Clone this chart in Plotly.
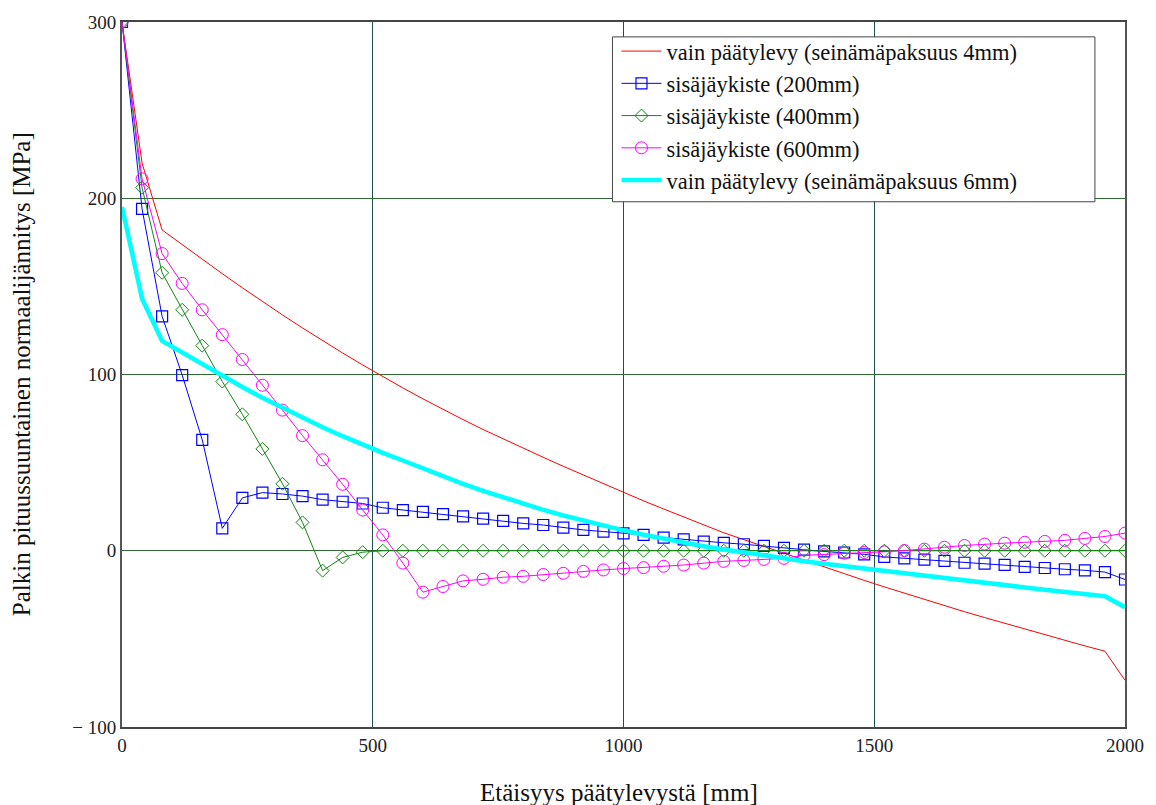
import plotly.graph_objects as go

# distance from end plate [mm], every 40 mm
x_mm = [0, 40, 80, 120, 160, 200, 240, 280, 320, 360, 400, 440, 480, 520, 560, 600,
        640, 680, 720, 760, 800, 840, 880, 920, 960, 1000, 1040, 1080, 1120, 1160, 1200,
        1240, 1280, 1320, 1360, 1400, 1440, 1480, 1520, 1560, 1600, 1640, 1680, 1720,
        1760, 1800, 1840, 1880, 1920, 1960, 2000]

# only end plate, wall thickness 4 mm
red_4mm = [300, 220, 182, 173.6, 165.3, 157.2, 149.2, 141.4, 133.8, 126.4, 119.2, 112.2,
           105.4, 98.8, 92.4, 86.2, 80.2, 74.4, 68.8, 63.4, 58.2, 53.0, 47.9, 42.9, 37.9,
           33.0, 28.3, 23.7, 19.2, 14.6, 10.2, 6.3, 2.4, -1.5, -5.3, -9.2, -13.0, -16.8,
           -20.5, -24.1, -27.7, -31.2, -34.6, -37.9, -41.2, -44.5, -47.7, -50.9, -54.0,
           -57.0, -73.5]

# internal stiffener 200 mm
blue_200 = [300, 194, 133, 99.7, 62.9, 12.7, 30.0, 33.0, 32.2, 31.0, 29.0, 27.8, 26.8,
            24.4, 23.1, 22.1, 20.8, 19.5, 18.2, 16.9, 15.5, 14.6, 13.1, 11.8, 10.9, 9.9,
            9.0, 7.5, 6.5, 5.2, 4.5, 3.7, 2.8, 1.6, 0.6, -0.4, -1.0, -2.0, -3.5, -4.3,
            -5.0, -5.8, -6.8, -7.3, -8.0, -9.2, -9.8, -10.5, -11.1, -12.1, -16.3]

# internal stiffener 400 mm
green_400 = [300, 206, 157.7, 136.7, 116.4, 96, 77.4, 57.8, 38, 16.1, -11.3, -3.8, -0.8,
             0, 0, 0, 0, 0, 0, 0, 0, 0, 0, 0, 0, 0, 0, 0, 0, 0, 0, 0, 0, 0, 0, 0, 0, 0,
             0, 0, 0, 0, 0, 0, 0, 0, 0, 0, 0, 0, 0]

# internal stiffener 600 mm
pink_600 = [300, 211, 168.6, 151.7, 136.7, 122.6, 108.5, 93.9, 79.8, 65.3, 51.6, 37.7,
            23.1, 9.0, -7.0, -23.5, -20.3, -17.1, -16.2, -15.0, -14.5, -13.5, -12.8,
            -11.7, -10.9, -10.1, -9.6, -8.8, -8.1, -7.0, -6.0, -5.5, -4.9, -4.3, -2.6,
            -2.2, -1.4, -1.0, -0.6, 0.1, 0.9, 2.0, 3.0, 3.8, 4.3, 4.8, 5.3, 5.9, 7.0,
            8.1, 10.0]

# only end plate, wall thickness 6 mm
cyan_6mm = [195, 143, 119, 112.3, 105.7, 99.2, 92.9, 86.8, 81.0, 75.4, 70.1, 65.0, 60.1,
            55.5, 51.2, 46.6, 42.2, 38.0, 34.0, 30.2, 26.6, 23.2, 20.0, 17.0, 14.2, 11.6,
            9.1, 6.8, 4.6, 2.6, 0.7, -1.1, -2.8, -4.4, -5.9, -7.4, -8.8, -10.2, -11.6,
            -13.0, -14.3, -15.6, -16.9, -18.2, -19.5, -20.8, -22.1, -23.4, -24.6, -25.8,
            -32.0]

names = ["vain päätylevy (seinämäpaksuus 4mm)", "sisäjäykiste (200mm)",
         "sisäjäykiste (400mm)", "sisäjäykiste (600mm)",
         "vain päätylevy (seinämäpaksuus 6mm)"]

x_ticks = [0, 500, 1000, 1500, 2000]
y_ticks = [-100, 0, 100, 200, 300]
y_ticktext = ["− 100", "0", "100", "200", "300"]

SERIF = "Liberation Serif, Times New Roman, serif"

fig = go.Figure()
fig.add_trace(go.Scatter(x=x_mm, y=red_4mm, name=names[0], mode="lines",
                         line=dict(color="#ff0000", width=1)))
fig.add_trace(go.Scatter(x=x_mm, y=blue_200, name=names[1], mode="lines+markers",
                         line=dict(color="#0000ff", width=1),
                         marker=dict(symbol="square-open", size=11, color="#0000ff",
                                     line=dict(width=1.2))))
fig.add_trace(go.Scatter(x=x_mm, y=green_400, name=names[2], mode="lines+markers",
                         line=dict(color="#118811", width=1),
                         marker=dict(symbol="diamond-open", size=10, color="#118811",
                                     line=dict(width=1))))
fig.add_trace(go.Scatter(x=x_mm, y=pink_600, name=names[3], mode="lines+markers",
                         line=dict(color="#ff00ff", width=1),
                         marker=dict(symbol="circle-open", size=12, color="#ff00ff",
                                     line=dict(width=1))))
fig.add_trace(go.Scatter(x=x_mm, y=cyan_6mm, name=names[4], mode="lines",
                         line=dict(color="#00ffff", width=4.5)))

fig.update_layout(
    width=1156, height=805,
    margin=dict(l=122, r=26, t=17, b=78),
    paper_bgcolor="white", plot_bgcolor="white",
    font=dict(family=SERIF, color="#222222"),
    showlegend=True,
    legend=dict(x=0.493, y=0.9887, xanchor="left", yanchor="top",
                bgcolor="rgba(0,0,0,0)", borderwidth=0,
                font=dict(family=SERIF, size=22.5, color="#111111"),
                tracegroupgap=0, itemwidth=40),
    xaxis=dict(range=[0, 2000], tickvals=x_ticks, ticks="", showgrid=True,
               gridcolor="#1f4f4f", gridwidth=1, zeroline=False,
               showline=True, linecolor="#444444", linewidth=2, mirror=True,
               tickfont=dict(family=SERIF, size=19, color="#222222")),
    yaxis=dict(range=[-100, 300], tickvals=y_ticks, ticktext=y_ticktext, ticks="",
               showgrid=True, gridcolor="#2f6a2f", gridwidth=1, zeroline=False,
               showline=True, linecolor="#555555", linewidth=2, mirror=True,
               tickfont=dict(family=SERIF, size=19, color="#222222")),
    shapes=[dict(type="rect", xref="paper", yref="paper", x0=0.489, x1=0.970,
                 y0=0.745, y1=0.9789, layer="above", fillcolor="white",
                 line=dict(color="#444444", width=1))],
    annotations=[
        dict(text="Etäisyys päätylevystä [mm]", xref="paper", yref="paper",
             x=0.496, y=-0.093, xanchor="center", yanchor="middle", showarrow=False,
             font=dict(family=SERIF, size=25, color="#111111")),
        dict(text="Palkin pituussuuntainen normaalijännitys [MPa]", xref="paper",
             yref="paper", x=-0.1, y=0.5, xanchor="center", yanchor="middle",
             textangle=-90, showarrow=False,
             font=dict(family=SERIF, size=25, color="#111111")),
    ],
)

fig.write_html("out.html")
